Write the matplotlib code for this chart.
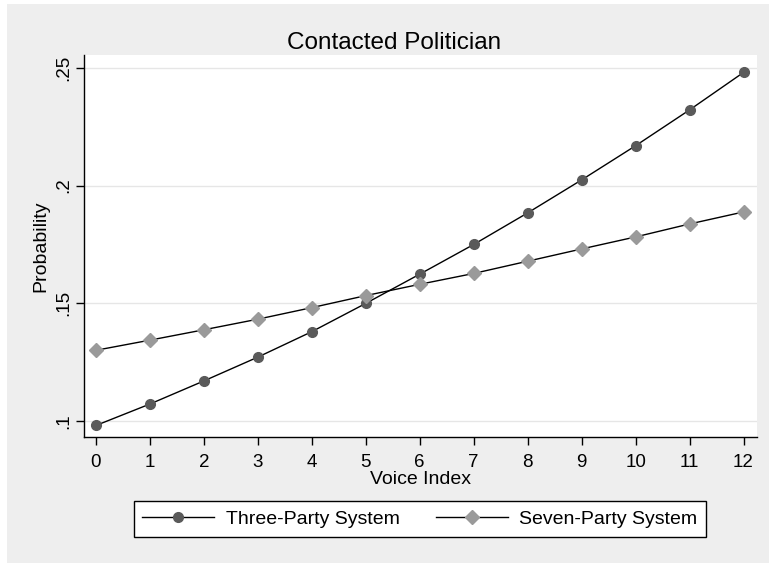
import matplotlib
matplotlib.use('Agg')
import matplotlib.pyplot as plt
from matplotlib.patches import Rectangle

plt.rcParams['font.family'] = ['Liberation Sans', 'DejaVu Sans']

# data
voice_index = list(range(13))
three_party = [0.0982, 0.1073, 0.1171, 0.1272, 0.1380, 0.1500, 0.1624,
               0.1750, 0.1884, 0.2024, 0.2169, 0.2321, 0.2480]
seven_party = [0.1301, 0.1344, 0.1388, 0.1433, 0.1482, 0.1533, 0.1581,
               0.1627, 0.1679, 0.1731, 0.1782, 0.1837, 0.1888]
y_ticks = [0.10, 0.15, 0.20, 0.25]
y_tick_labels = ['.1', '.15', '.2', '.25']

W, H = 769, 563
fig = plt.figure(figsize=(W / 100, H / 100), dpi=100, facecolor='white')
# gray graph region (Stata style)
fig.patches.append(Rectangle((7 / W, 0), 1 - 7 / W, 1 - 4 / H, transform=fig.transFigure,
                             facecolor='#eeeeee', edgecolor='none', zorder=-10))

ax = fig.add_axes([84 / W, 1 - 437 / H, (757 - 84) / W, (437 - 55) / H])
ax.set_facecolor('white')

ax.plot(voice_index, three_party, color='black', lw=1.0, marker='o', markersize=7,
        markerfacecolor='#5a5a5a', markeredgecolor='#5a5a5a', label='Three-Party System', zorder=3)
ax.plot(voice_index, seven_party, color='black', lw=1.0, marker='D', markersize=7,
        markerfacecolor='#9a9a9a', markeredgecolor='#9a9a9a', label='Seven-Party System', zorder=3)

ax.set_xlim(-0.222, 12.25)
ax.set_ylim(0.0933, 0.2554)
ax.set_xticks(voice_index)
ax.set_yticks(y_ticks)
ax.set_yticklabels(y_tick_labels, rotation=90, va='center')
ax.grid(axis='y', color='#e6e6e6', lw=1.0)
ax.set_axisbelow(True)

for s in ['top', 'right']:
    ax.spines[s].set_visible(False)
for s in ['left', 'bottom']:
    ax.spines[s].set_linewidth(1.0)
ax.tick_params(axis='both', length=5.5, width=1.0, labelsize=13.5, color='black')
ax.tick_params(axis='x', pad=7)
ax.tick_params(axis='y', pad=3)

ax.set_xlabel('Voice Index', fontsize=14, labelpad=0)
ax.set_ylabel('Probability', fontsize=14, labelpad=4)

fig.text(394.5 / W, 1 - 49 / H, 'Contacted Politician', ha='center', va='baseline', fontsize=17.5)

leg = fig.legend(loc='center', bbox_to_anchor=(420 / W, 1 - 519 / H), ncol=2,
                 fontsize=14, frameon=True, fancybox=False, framealpha=1, handlelength=3.7,
                 handletextpad=0.6, columnspacing=1.85, borderpad=0.45)
leg.get_frame().set_edgecolor('black')
leg.get_frame().set_linewidth(1.0)
leg.get_frame().set_facecolor('white')

plt.savefig('out.png', dpi=100, facecolor=fig.get_facecolor())
